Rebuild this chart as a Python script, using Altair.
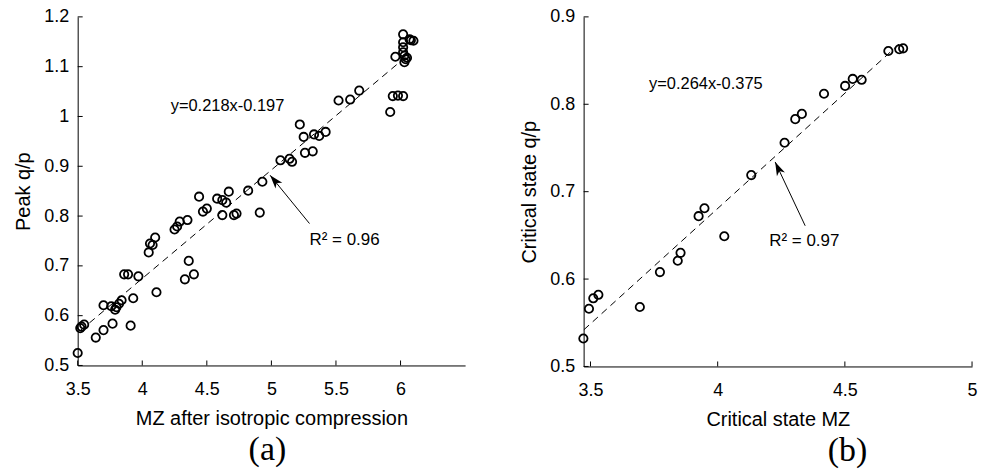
import altair as alt
import pandas as pd

# ---------- panel (a) data ----------
a_x = [3.50, 3.52, 3.53, 3.55, 3.64, 3.70, 3.70, 3.77, 3.76, 3.79, 3.80, 3.82, 3.84,
       3.91, 3.93, 3.86, 3.89, 3.97, 4.11, 4.05, 4.06, 4.08, 4.10, 4.25, 4.27, 4.29,
       4.35, 4.33, 4.36, 4.40, 4.44, 4.47, 4.50, 4.58, 4.62, 4.65, 4.67, 4.62, 4.71,
       4.73, 4.82, 4.91, 4.93, 5.07, 5.14, 5.16, 5.26, 5.32, 5.22, 5.25, 5.33, 5.37,
       5.42, 5.52, 5.61, 5.68, 5.92, 5.94, 5.98, 6.02, 5.96, 6.02, 6.02, 6.07, 6.10,
       6.08, 6.02, 6.02, 6.03, 6.04, 6.03, 6.05]
a_y = [0.525, 0.575, 0.578, 0.582, 0.556, 0.571, 0.621, 0.584, 0.619, 0.612, 0.617,
       0.624, 0.631, 0.580, 0.635, 0.683, 0.683, 0.679, 0.647, 0.727, 0.745, 0.742,
       0.757, 0.773, 0.779, 0.789, 0.792, 0.673, 0.710, 0.683, 0.839, 0.809, 0.815,
       0.835, 0.832, 0.827, 0.849, 0.802, 0.802, 0.805, 0.851, 0.807, 0.869, 0.912,
       0.915, 0.909, 0.927, 0.930, 0.984, 0.959, 0.964, 0.961, 0.969, 1.032, 1.034,
       1.052, 1.009, 1.041, 1.042, 1.041, 1.120, 1.165, 1.149, 1.155, 1.152, 1.153,
       1.139, 1.129, 1.122, 1.115, 1.109, 1.118]
a_fit_x = [3.52, 6.02]
a_fit_y = [0.570, 1.115]
a_xticks = [3.5, 4, 4.5, 5, 5.5, 6]
a_yticks = [0.5, 0.6, 0.7, 0.8, 0.9, 1.0, 1.1, 1.2]
a_eq = ["y=0.218x-0.197"]
a_eq_xy = [4.22, 1.022]
a_r2 = ["R\u00b2 = 0.96"]
a_r2_xy = [5.295, 0.752]
a_arrow_tail = [5.295, 0.785]
a_arrow_head = [4.99, 0.882]

# ---------- panel (b) data ----------
b_x = [3.472, 3.494, 3.511, 3.531, 3.694, 3.773, 3.843, 3.854, 3.925, 3.948, 4.026,
       4.132, 4.263, 4.305, 4.331, 4.418, 4.501, 4.531, 4.566, 4.671, 4.714, 4.729]
b_y = [0.532, 0.566, 0.578, 0.582, 0.568, 0.608, 0.621, 0.630, 0.672, 0.681, 0.649,
       0.719, 0.756, 0.783, 0.789, 0.812, 0.821, 0.829, 0.828, 0.861, 0.863, 0.864]
b_fit_x = [3.474, 4.725]
b_fit_y = [0.542, 0.872]
b_xticks = [3.5, 4, 4.5, 5]
b_yticks = [0.5, 0.6, 0.7, 0.8, 0.9]
b_eq = ["y=0.264x-0.375"]
b_eq_xy = [3.73, 0.823]
b_r2 = ["R\u00b2 = 0.97"]
b_r2_xy = [4.203, 0.643]
b_arrow_tail = [4.344, 0.661]
b_arrow_head = [4.226, 0.734]

SANS = "Liberation Sans"
SERIF = "Liberation Serif"
HEAD = "M0,0L0.55,1.7L0,1.25L-0.55,1.7Z"


def panel(xs, ys, fx, fy, xdom, ydom, xticks, yticks, xtitle, ytitle, caption,
          cap_dx, eq, eq_xy, r2, r2_xy, tail, head, angle, W, H):
    pts = pd.DataFrame({"x": xs, "y": ys})
    fit = pd.DataFrame({"x": fx, "y": fy})
    xs_ = alt.Scale(domain=xdom, nice=False, zero=False)
    ys_ = alt.Scale(domain=ydom, nice=False, zero=False)
    xax = alt.Axis(values=xticks, format="~g", title=xtitle, labelFlush=False)
    yax = alt.Axis(values=yticks, format="~g", title=ytitle, labelFlush=False)

    def X(f="x"):
        return alt.X(f + ":Q", scale=xs_, axis=xax)

    def Y(f="y"):
        return alt.Y(f + ":Q", scale=ys_, axis=yax)

    base = alt.Chart(pts).mark_point(
        shape="circle", filled=False, color="black", size=70, strokeWidth=1.8, opacity=1
    ).encode(x=X(), y=Y())
    line = alt.Chart(fit).mark_line(color="black", strokeWidth=1, strokeDash=[7, 5]).encode(
        x=X(), y=Y()
    )
    eq_t = alt.Chart(pd.DataFrame({"x": [eq_xy[0]], "y": [eq_xy[1]], "t": eq})).mark_text(
        align="left", baseline="middle", font=SANS, fontSize=16.5, color="black"
    ).encode(x=X(), y=Y(), text="t:N")
    r2_t = alt.Chart(pd.DataFrame({"x": [r2_xy[0]], "y": [r2_xy[1]], "t": r2})).mark_text(
        align="left", baseline="middle", font=SANS, fontSize=17, color="black"
    ).encode(x=X(), y=Y(), text="t:N")
    arr = pd.DataFrame({"x": [tail[0]], "y": [tail[1]], "x2": [head[0]], "y2": [head[1]]})
    shaft = alt.Chart(arr).mark_rule(color="black", strokeWidth=1).encode(
        x=X(), y=Y(), x2="x2:Q", y2="y2:Q"
    )
    tip = alt.Chart(pd.DataFrame({"x": [head[0]], "y": [head[1]]})).mark_point(
        shape=HEAD, filled=True, color="black", size=260, angle=angle, opacity=1
    ).encode(x=X(), y=Y())
    xt = alt.Chart(pd.DataFrame({"x": xticks})).mark_rule(color="black", strokeWidth=1).encode(
        x=X(), y=alt.value(H), y2=alt.value(H - 5)
    )
    yt = alt.Chart(pd.DataFrame({"y": yticks})).mark_rule(color="black", strokeWidth=1).encode(
        y=Y(), x=alt.value(0), x2=alt.value(5)
    )
    return alt.layer(base, line, eq_t, shaft, tip, r2_t, xt, yt).properties(
        width=W, height=H,
        title=alt.TitleParams(caption, orient="bottom", font=SERIF, fontSize=34,
                              fontWeight="normal", color="black", offset=5, dx=cap_dx),
    )


left = panel(a_x, a_y, a_fit_x, a_fit_y, [3.5, 6.5], [0.5, 1.2], a_xticks, a_yticks,
             "MZ after isotropic compression", "Peak q/p", "(a)", -4,
             a_eq, a_eq_xy, a_r2, a_r2_xy, a_arrow_tail, a_arrow_head, 320, 389, 350)
right = panel(b_x, b_y, b_fit_x, b_fit_y, [3.473, 5.0], [0.5, 0.9], b_xticks, b_yticks,
              "Critical state MZ", "Critical state q/p", "(b)", 70,
              b_eq, b_eq_xy, b_r2, b_r2_xy, b_arrow_tail, b_arrow_head, 335, 390, 351)

chart = alt.hconcat(left, right, spacing=54).properties(
    padding={"left": 13, "top": 7, "right": 5, "bottom": 0}, background="white"
).configure_view(stroke=None).configure_axis(
    grid=False, ticks=False, domainColor="black", domainWidth=1,
    labelFont=SANS, labelFontSize=18, labelColor="black", labelPadding=9,
    titleFont=SANS, titleFontSize=20, titleFontWeight="normal", titleColor="black",
    titlePadding=10,
).configure_axisX(labelPadding=15)

chart.save("out.html", embed_options={"renderer": "svg", "actions": False})
